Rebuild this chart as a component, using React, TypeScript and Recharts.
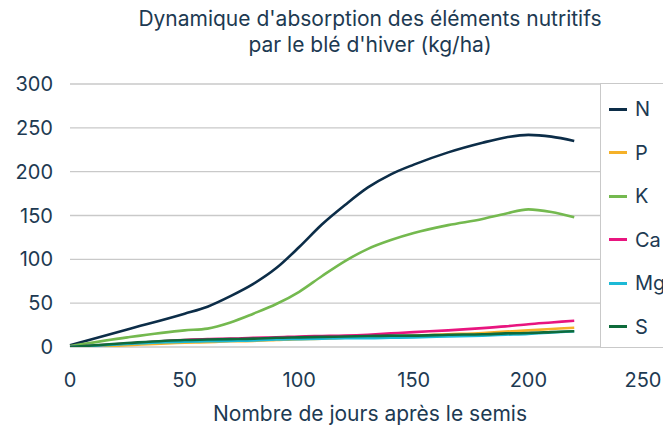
import { LineChart, Line, XAxis, YAxis, CartesianGrid } from "recharts";

const days = [0, 25, 50, 60, 70, 80, 90, 100, 110, 120, 130, 140, 150, 165, 180, 190, 200, 210, 220];
const nValues = [2, 20, 38, 46, 58, 72, 90, 114, 140, 162, 182, 197, 208, 222, 233, 239, 242, 240, 235];
const pValues = [-1.5, 2, 5, 5.5, 6.5, 7, 8, 9, 9.5, 10.5, 11, 12, 13, 14.5, 16, 17.5, 19, 20.5, 22];
const kValues = [1, 11, 19, 21, 28, 38, 49, 63, 81, 98, 112, 122, 130, 139, 146, 152, 157, 154, 148];
const caValues = [0, 4, 8, 9, 9.5, 10.5, 11, 12, 12.5, 13, 14, 15.5, 17, 19, 21.5, 23.5, 26, 28, 30];
const mgValues = [0, 3.5, 6, 6.5, 7, 7.5, 8.5, 9, 9.5, 10, 10, 10.5, 11, 12, 13, 14, 15, 16.5, 18];
const sValues = [0, 4.5, 8, 8.5, 9, 9.5, 10.5, 11, 11.5, 12, 12.5, 13, 13, 14, 14.5, 15.5, 16, 17, 18];
const xTicks = [0, 50, 100, 150, 200, 250];
const yTicks = [0, 50, 100, 150, 200, 250, 300];

const series = [
  { key: "N", name: "N", values: nValues, color: "#0c2d48" },
  { key: "P", name: "P", values: pValues, color: "#f5b129" },
  { key: "K", name: "K", values: kValues, color: "#74b94f" },
  { key: "Ca", name: "Ca", values: caValues, color: "#e8157f" },
  { key: "Mg", name: "Mg", values: mgValues, color: "#1cb9d6" },
  { key: "S", name: "S", values: sValues, color: "#0e6b3b" },
];

const data = days.map((d, i) => {
  const row: Record<string, number> = { day: d };
  series.forEach((s) => (row[s.key] = s.values[i]));
  return row;
});

const textColor = "#1d3a52";
const font = "Inter, 'Noto Sans', sans-serif";

export default function App() {
  return (
    <div style={{ position: "absolute", left: 0, top: 0, width: 663, height: 430, background: "#fff", fontFamily: font, overflow: "hidden" }}>
      <LineChart width={663} height={430} data={data} margin={{ top: 84, right: 20, bottom: 0, left: 0 }}>
        <CartesianGrid vertical={false} stroke="#c9c9c9" strokeWidth={1.3} />
        <XAxis
          dataKey="day"
          type="number"
          domain={[0, 250]}
          ticks={xTicks}
          axisLine={false}
          tickLine={false}
          tickSize={0}
          tickMargin={26}
          tick={{ fill: textColor, fontSize: 20, fontFamily: font }}
          height={83}
        />
        <YAxis
          type="number"
          domain={[0, 300]}
          ticks={yTicks}
          allowDataOverflow
          axisLine={false}
          tickLine={false}
          tickSize={0}
          tickMargin={17}
          width={70}
          tick={{ fill: textColor, fontSize: 20, fontFamily: font }}
        />
        {series.map((s) => (
          <Line
            key={s.key}
            type="monotone"
            dataKey={s.key}
            name={s.name}
            stroke={s.color}
            strokeWidth={2.6}
            dot={false}
            activeDot={false}
            isAnimationActive={false}
          />
        ))}
      </LineChart>

      {/* title */}
      <div style={{ position: "absolute", left: 0, width: 740, top: 6, textAlign: "center", color: textColor, fontSize: 21, lineHeight: "26px" }}>
        Dynamique d'absorption des éléments nutritifs
        <br />
        par le blé d'hiver (kg/ha)
      </div>

      {/* axis title */}
      <div style={{ position: "absolute", left: 0, width: 740, top: 402, textAlign: "center", color: textColor, fontSize: 21, lineHeight: "24px" }}>
        Nombre de jours après le semis
      </div>

      {/* legend */}
      <div
        style={{
          position: "absolute",
          left: 600,
          top: 83,
          width: 80,
          height: 263,
          background: "#fff",
          borderLeft: "1.3px solid #c9c9c9",
          borderTop: "1.3px solid #c9c9c9",
          borderBottom: "1.3px solid #c9c9c9",
        }}
      >
        {series.map((s, i) => (
          <div key={s.key} style={{ position: "absolute", left: 8, top: 13 + i * 43.5, display: "flex", alignItems: "center", height: 24, lineHeight: "24px" }}>
            <span style={{ display: "inline-block", width: 18, height: 3, background: s.color, marginRight: 8 }} />
            <span style={{ color: textColor, fontSize: 20 }}>{s.name}</span>
          </div>
        ))}
      </div>
    </div>
  );
}
